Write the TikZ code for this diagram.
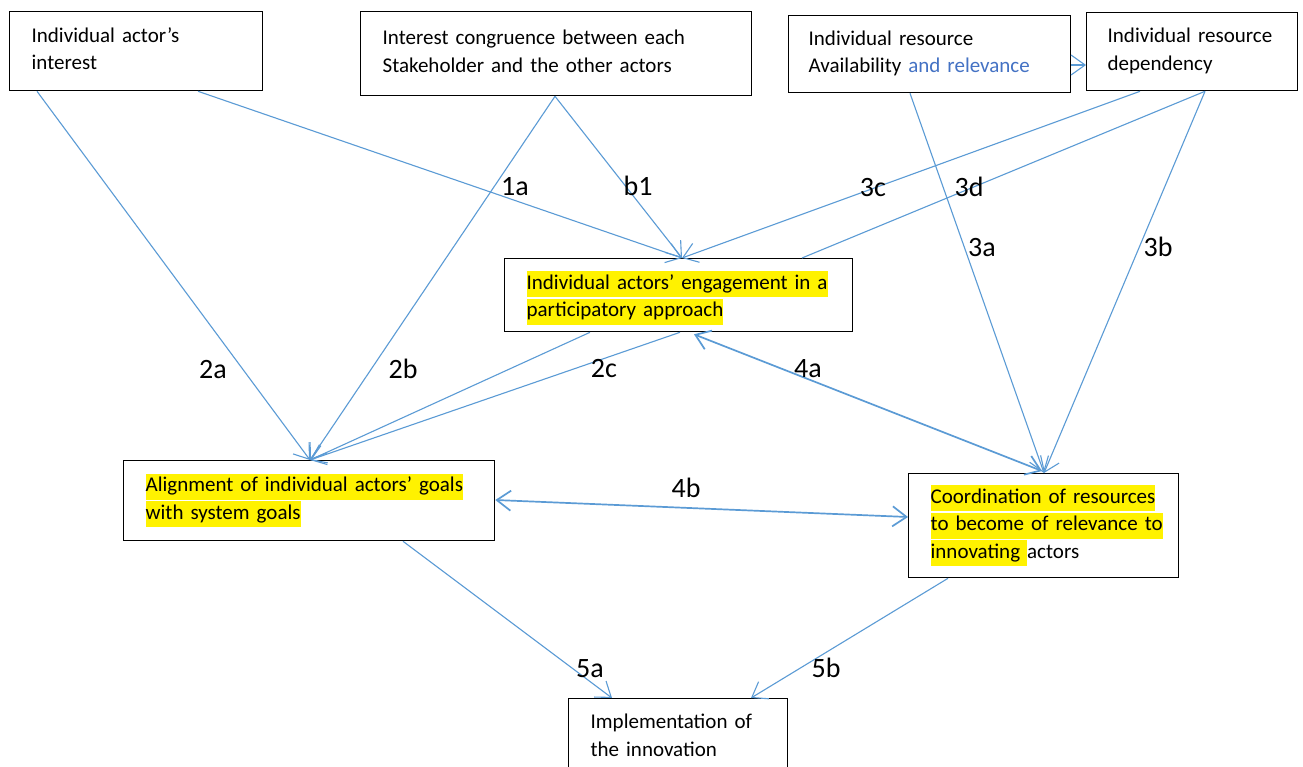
\documentclass[tikz,border=0pt]{standalone}
\usepackage{fontspec}
\setmainfont{Carlito}
\usetikzlibrary{arrows.meta,calc}
\definecolor{lnblue}{RGB}{91,155,213}
\definecolor{txblue}{RGB}{68,114,196}
\newcommand{\mystrut}{\rule[-8pt]{0pt}{26pt}}
\newcommand{\hlt}[1]{{\setlength{\fboxsep}{0pt}\colorbox{yellow}{\mystrut#1}}}
\newcommand{\plainln}[1]{\mbox{\mystrut#1}}
\tikzset{
  box/.style={draw=black, line width=1.3pt, anchor=north west, align=left,
    inner xsep=22pt, inner ysep=0pt, font=\fontsize{21}{27.5}\selectfont},
  conn/.style={draw=lnblue, line width=1.1pt, -{Straight Barb[length=14pt,width=20pt]}},
  conn2/.style={draw=lnblue, line width=1.7pt, {Straight Barb[length=14pt,width=20pt]}-{Straight Barb[length=14pt,width=20pt]}},
  plain/.style={draw=lnblue, line width=1.1pt},
  lab/.style={font=\fontsize{28}{30}\selectfont, anchor=base, inner sep=0pt}
}
\begin{document}
\begin{tikzpicture}[x=1pt,y=-1pt]
\useasboundingbox (0,0) rectangle (1303,767);
\clip (0,0) rectangle (1303,767);
\fill[white] (0,0) rectangle (1303,767);

\node[box, text width=209pt, minimum height=79pt] (b1) at (9,11)
  {\plainln{Individual actor's}\\\plainln{interest}};
\node[box, text width=347pt, minimum height=84pt] (b2) at (360,11)
  {\plainln{Interest congruence between each}\\\plainln{Stakeholder and the other actors}};
\node[box, inner xsep=20pt, text width=242pt, minimum height=77pt] (b3) at (788,15)
  {\plainln{Individual resource}\\\plainln{Availability \textcolor{txblue}{and relevance}}};
\node[box, inner xsep=21pt, text width=169pt, minimum height=78pt] (b4) at (1086,12)
  {\plainln{Individual resource}\\\plainln{dependency}};
\node[box, text width=304pt, minimum height=73pt] (eng) at (504,258)
  {\rule{0pt}{24pt}\hlt{Individual actors' engagement in a}\\\hlt{participatory approach}};
\node[box, text width=327pt, minimum height=80pt] (ali) at (123,460)
  {\hlt{Alignment of individual actors' goals}\\\hlt{with system goals}};
\node[box, text width=226pt, minimum height=104pt] (coo) at (908,473)
  {\hlt{Coordination of resources}\\\hlt{to become of relevance to}\\\hlt{innovating }\plainln{actors}};
\node[box, text width=175pt, minimum height=78pt] (imp) at (568,698)
  {\plainln{Implementation of}\\\plainln{the innovation}};

% connectors
\draw[conn] ($(b1.south west)+(28,0)$) -- ($(ali.north west)+(187,0)$);
\draw[conn] ($(b1.south west)+(189,0)$) -- ($(eng.north west)+(178,0)$);
\draw[conn] ($(b2.south west)+(195,0)$) -- ($(ali.north west)+(187,0)$);
\draw[conn] ($(b2.south west)+(195,0)$) -- ($(eng.north west)+(178,0)$);
\draw[conn] ($(b4.south west)+(54,0)$) -- ($(eng.north west)+(178,0)$);
\draw[plain] ($(b4.south west)+(119,0)$) -- ($(eng.north west)+(298,0)$);
\draw[conn] ($(b4.south west)+(119,0)$) -- ($(coo.north west)+(136,0)$);
\draw[conn] ($(b3.south west)+(122,0)$) -- ($(coo.north west)+(136,0)$);
\draw[conn] ($(b3.north east)+(0,50)$) -- ($(b4.north west)+(0,53)$);
\draw[conn] ($(eng.south west)+(86,0)$) -- ($(ali.north west)+(187,0)$);
\draw[conn] ($(eng.south west)+(176,0)$) -- ($(ali.north west)+(187,0)$);
\draw[conn2] ($(eng.south west)+(190,2)$) -- ($(coo.north west)+(134,-2)$);
\draw[conn2] ($(ali.north east)+(0,40)$) -- ($(coo.north west)+(0,44)$);
\draw[conn] ($(ali.south west)+(280,0)$) -- ($(imp.north west)+(44,0)$);
\draw[conn] ($(coo.south west)+(40,0)$) -- ($(imp.north west)+(183,0)$);

% labels
\node[lab] (l1a) at (515,196) {1a};
\node[lab] (lb1) at (638,196) {b1};
\node[lab] (l3c) at (873,197) {3c};
\node[lab] (l3d) at (969,197) {3d};
\node[lab] (l3a) at (982,257) {3a};
\node[lab] (l3b) at (1158,257) {3b};
\node[lab] (l2a) at (213,378) {2a};
\node[lab] (l2b) at (403,378) {2b};
\node[lab] (l2c) at (604,377) {2c};
\node[lab] (l4a) at (808,377) {4a};
\node[lab] (l4b) at (686,497) {4b};
\node[lab] (l5a) at (590,677) {5a};
\node[lab] (l5b) at (826,677) {5b};
\end{tikzpicture}
\end{document}
